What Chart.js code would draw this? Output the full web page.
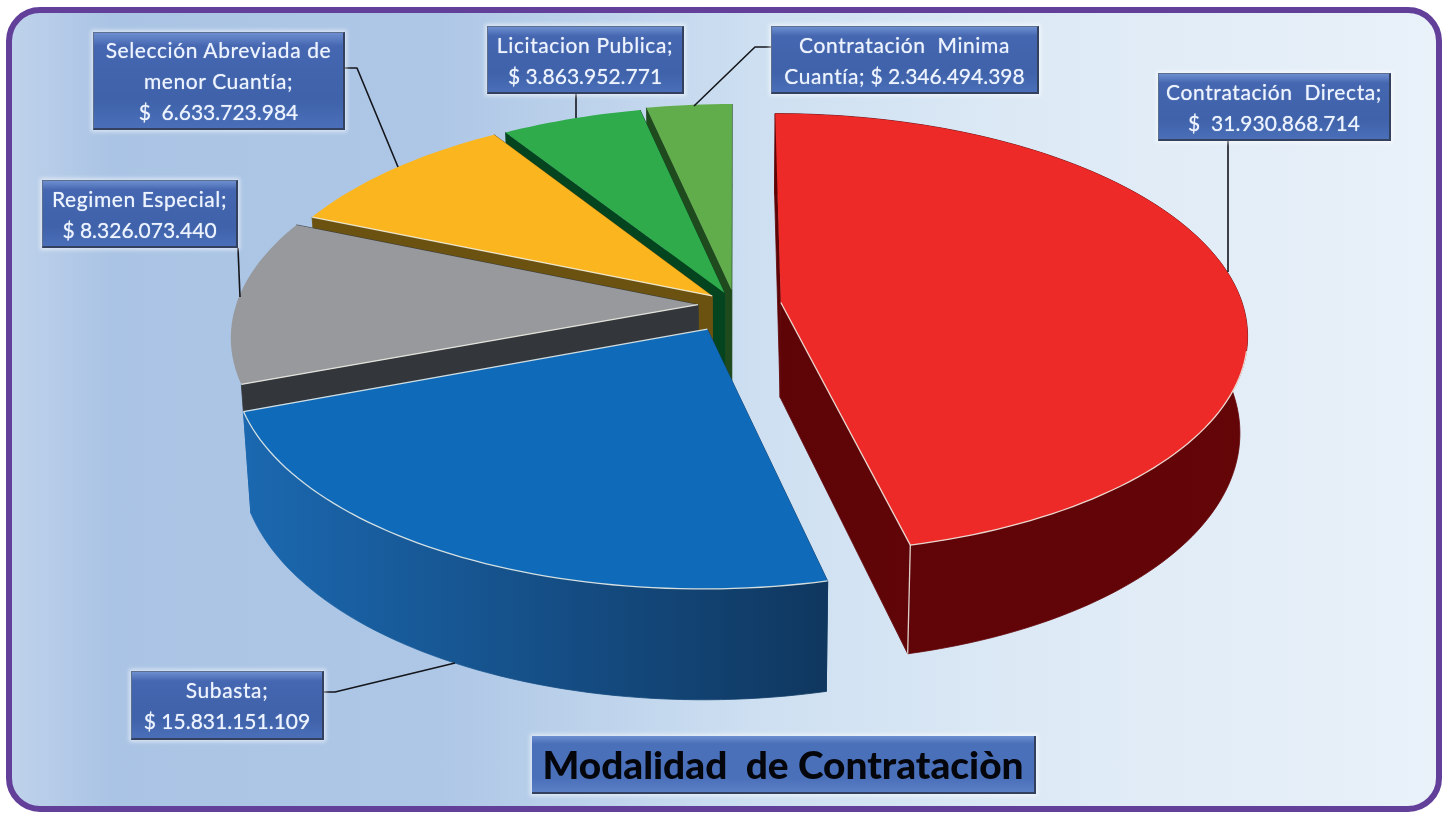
<!DOCTYPE html>
<html>
<head>
<meta charset="utf-8">
<title>Modalidad de Contratación</title>
<script src="https://cdn.jsdelivr.net/npm/chart.js@4"></script>
<style>
html, body { margin: 0; padding: 0; background: #fff; }
#page { position: relative; width: 1445px; height: 814px; overflow: hidden; font-family: Lato, sans-serif; }
#frame {
    position: absolute; left: 6px; top: 7px; width: 1424px; height: 793px;
    border: 6px solid #62409a; border-radius: 34px;
    background:
        linear-gradient(90deg, rgba(255,255,255,.25) 0, rgba(255,255,255,0) 100px),
        linear-gradient(90deg, #a9c3e4 0, #aec7e6 30%, #cddff1 52%, #dce9f5 70%, #e9f1f9 100%);
}
canvas { position: absolute; left: 0; top: 0; }
.tag {
    position: absolute; box-sizing: border-box; display: flex; align-items: center; justify-content: center;
    text-align: center; white-space: pre-wrap; color: #eef4ff; font-size: 21px; line-height: 31px;
    text-shadow: 0 0 1px rgba(238,244,255,.7);
    background: linear-gradient(#6d8fd0 0, #4566b0 14%, #3f62aa 70%, #4a6fb8 100%);
    border: 1px solid #5c6f8f; border-right: 2px solid #33415f; border-bottom: 2px solid #33415f;
    box-shadow: 0 0 4px 2px rgba(255,255,255,.55);
}
.tag span { letter-spacing: .6px; }
#title {
    position: absolute; left: 532px; top: 736px; width: 504px; height: 58px; box-sizing: border-box;
    display: flex; align-items: center; justify-content: center; white-space: pre;
    font-size: 38.8px; font-weight: 900; color: #05060c;
    background: linear-gradient(#6d8fd0 0, #4b70ba 14%, #4a70ba 75%, #5c7fc4 100%);
    border-right: 2px solid #33415f; border-bottom: 2px solid #33415f;
    box-shadow: 0 0 4px 2px rgba(255,255,255,.55);
}
</style>
</head>
<body>
<div id="page">
    <div id="frame"></div>
    <canvas id="myChart" width="1445" height="814"></canvas>
    <div id="tags"></div>
    <div id="title"></div>
</div>
<script>
var titleText = "Modalidad  de Contrataciòn";
var categories = ["Contratación  Directa", "Subasta", "Regimen Especial", "Selección Abreviada de menor Cuantía", "Licitacion Publica", "Contratación  Minima Cuantía"];
var values = [31930868714, 15831151109, 8326073440, 6633723984, 3863952771, 2346494398];

// colours and how far each slice is pulled out, in disc radii
var topColors = ["#ee2a28", "#0f6bba", "#97999c", "#fbb61f", "#2fab4c", "#62ad4b"];
var wallColors = [["#5e0407", "#640508"], ["#1b68b0", "#0f375f"], ["#33373c", "#33373c"], ["#6b5210", "#6b5210"], ["#04451f", "#04451f"], ["#1f4a1e", "#1f4a1e"]];
var explode = [0.1, 0.125, 0.08, 0.065, 0.06, 0.07];
var wallDepth = [1, 1, 0.3, 1, 1, 1];
var rimWall = [true, true, false, false, false, false];
var frontEdge = [["end"], ["end"], ["start"], ["start"], [], []];
var drawOrder = [5, 4, 3, 2, 0, 1];

var tagBoxes = [
    { left: 1158, top: 73, width: 233, height: 68, split: true, sep: "  " },
    { left: 131, top: 671, width: 193, height: 69, split: true, sep: " " },
    { left: 42, top: 180, width: 196, height: 68, split: true, sep: " " },
    { left: 93, top: 32, width: 252, height: 98, split: true, sep: "  " },
    { left: 487, top: 26, width: 197, height: 68, split: true, sep: " " },
    { left: 771, top: 26, width: 268, height: 68, split: false, sep: " " }
];
var leaders = [
    [[1228, 141], [1228, 272]],
    [[324, 692], [335, 692], [455, 663]],
    [[238, 248], [240, 297]],
    [[345, 68], [357, 68], [398, 167]],
    [[576, 94], [576, 118]],
    [[771, 47], [755, 47], [694, 106]]
];

// perspective of the disc on the page
var disc = { cx: 735, cy: 305, rx: 462, ry: 216, k: 0.14, depth: 95, taper: 0.985 };

function project(u, v, lower, scale) {
    var f = 1 / (1 - disc.k * v);
    var x = disc.cx + disc.rx * u * f;
    var y = disc.cy + disc.ry * v * f;
    if (lower) {
        x = disc.cx + (x - disc.cx) * (1 - (1 - disc.taper) * scale);
        y += disc.depth * (1 + 0.15 * v) * scale;
    }
    return [x, y];
}

function money(n) {
    return String(n).replace(/\B(?=(\d{3})+$)/g, ".");
}

function tracePath(ctx, pts) {
    ctx.beginPath();
    pts.forEach(function(p, i) {
        if (i === 0) ctx.moveTo(p[0], p[1]); else ctx.lineTo(p[0], p[1]);
    });
}

function drawSlice(ctx, arc, i) {
    var p = arc.getProps(["startAngle", "endAngle"], true);
    var mid = (p.startAngle + p.endAngle) / 2;
    var u0 = Math.cos(mid) * explode[i];
    var v0 = Math.sin(mid) * explode[i];
    var rim = [];
    var steps = Math.max(8, Math.ceil((p.endAngle - p.startAngle) * 40));
    for (var s = 0; s <= steps; s++) {
        var a = p.startAngle + (p.endAngle - p.startAngle) * s / steps;
        rim.push([u0 + Math.cos(a), v0 + Math.sin(a)]);
    }
    var up = rim.map(function(q) { return project(q[0], q[1], false); });
    var down = rim.map(function(q) { return project(q[0], q[1], true, wallDepth[i]); });
    var apexUp = project(u0, v0, false);
    var apexDown = project(u0, v0, true, wallDepth[i]);
    var xs = up.map(function(q) { return q[0]; });

    var wall = ctx.createLinearGradient(Math.min.apply(null, xs), 0, Math.max.apply(null, xs), 0);
    wall.addColorStop(0, wallColors[i][0]);
    wall.addColorStop(1, wallColors[i][1]);
    ctx.fillStyle = wall;
    ctx.strokeStyle = wall;
    ctx.lineWidth = 0.8;

    // side walls first, then the rim wall
    var last = up.length - 1;
    [[apexUp, up[0], down[0], apexDown], [apexUp, up[last], down[last], apexDown]].forEach(function(q) {
        tracePath(ctx, q);
        ctx.closePath();
        ctx.fill();
        ctx.stroke();
    });
    if (rimWall[i]) {
        tracePath(ctx, up.concat(down.slice().reverse()));
        ctx.closePath();
        ctx.fill();
        ctx.stroke();
    }

    // top face
    tracePath(ctx, [apexUp].concat(up));
    ctx.closePath();
    ctx.fillStyle = topColors[i];
    ctx.fill();

    // pale highlight on the edges facing the viewer
    ctx.strokeStyle = "rgba(245,245,235,.85)";
    ctx.lineWidth = 1.3;
    var front = up.filter(function(q, n) { return rimWall[i] && rim[n][1] > 0.2; });
    if (front.length > 1) {
        tracePath(ctx, front);
        ctx.stroke();
    }
    frontEdge[i].forEach(function(side) {
        tracePath(ctx, [apexUp, side === "end" ? up[last] : up[0]]);
        ctx.stroke();
    });
    if (i === 0) {
        tracePath(ctx, [up[last], down[last]]);
        ctx.stroke();
    }
}

var perspectivePie = {
    id: "perspectivePie",
    beforeDatasetDraw: function(chart) {
        var ctx = chart.ctx;
        var arcs = chart.getDatasetMeta(0).data;
        ctx.save();
        ctx.lineJoin = "round";
        drawOrder.forEach(function(i) {
            drawSlice(ctx, arcs[i], i);
        });
        ctx.strokeStyle = "#14161c";
        ctx.lineWidth = 1.6;
        leaders.forEach(function(line) {
            tracePath(ctx, line);
            ctx.stroke();
        });
        ctx.restore();
        return false;
    }
};

new Chart(document.getElementById("myChart"), {
    type: "pie",
    data: {
        labels: categories,
        datasets: [{ data: values, backgroundColor: topColors }]
    },
    options: {
        responsive: false,
        animation: false,
        rotation: 0,
        plugins: { legend: { display: false }, tooltip: { enabled: false } }
    },
    plugins: [perspectivePie]
});

document.getElementById("title").textContent = titleText;
categories.forEach(function(name, i) {
    var b = tagBoxes[i];
    var el = document.createElement("div");
    el.className = "tag";
    el.style.left = b.left + "px";
    el.style.top = b.top + "px";
    el.style.width = b.width + "px";
    el.style.height = b.height + "px";
    el.style.padding = "0 4px";
    var inner = document.createElement("div");
    var nameEl = document.createElement("span");
    nameEl.textContent = name + ";";
    inner.appendChild(nameEl);
    inner.appendChild(document.createTextNode((b.split ? "\n" : " ") + "$" + b.sep + money(values[i])));
    el.appendChild(inner);
    document.getElementById("tags").appendChild(el);
});
</script>
</body>
</html>
